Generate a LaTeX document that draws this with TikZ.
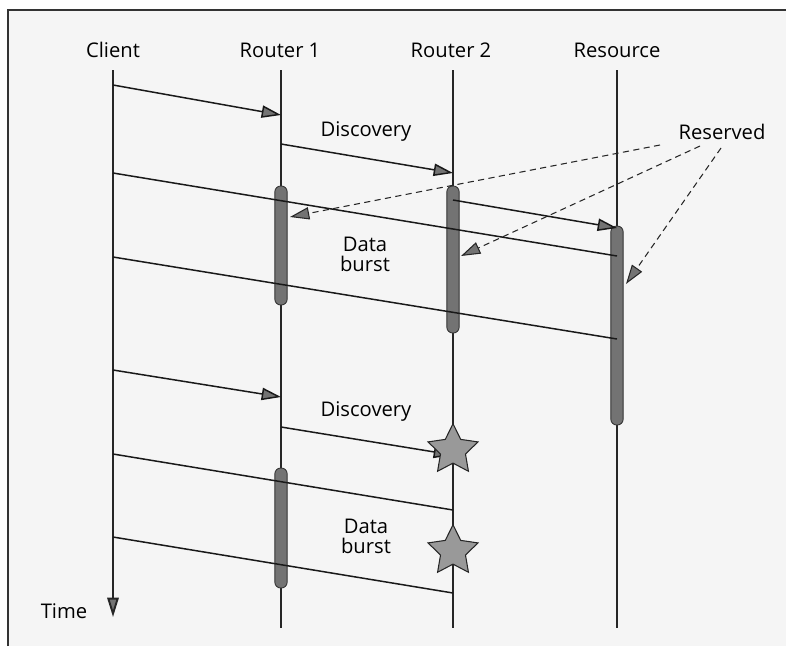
\documentclass[tikz,border=0pt]{standalone}
\usepackage{fontspec}
\setmainfont{Open Sans}
\usetikzlibrary{arrows.meta,shapes.geometric}

\tikzstyle{actor} = [font=\fontsize{11.5}{13}\selectfont, inner sep=0pt]
\tikzstyle{note} = [font=\fontsize{11.5}{11.5}\selectfont, align=center, inner sep=0pt]
\tikzstyle{lifeline} = [draw=black!85, line width=0.6pt]
\tikzstyle{burst} = [rectangle, rounded corners=3.3pt, minimum width=7pt, inner sep=0pt, fill=black!55, draw=black!80, line width=0.5pt]
\tikzstyle{msg} = [draw=black!90, line width=0.85pt]
\tikzstyle{tip} = [-{Triangle[length=11pt,width=7pt,fill=black!55]}]
\tikzstyle{reserve} = [draw=black!85, dashed, dash pattern=on 3.5pt off 2.5pt, line width=0.6pt]
\tikzstyle{fault} = [star, star points=5, star point ratio=2.0, minimum size=1.05cm, inner sep=0pt, fill=black!40, draw=black!85, line width=0.6pt]

\begin{document}
\begin{tikzpicture}[x=0.02cm, y=-0.02cm]
    \useasboundingbox (0,0) rectangle (786,646);
    \fill[gray!8] (8,10) rectangle (786,646);
    \draw[line width=1.1pt, black!80] (8,646) -- (8,10) -- (786,10);
    %\draw[step=50,gray,very thin] (0,0) grid (786,646);

    % headers
    \node (client) at (113,50) [actor] {Client};
    \node (router1) at (280,50) [actor] {Router 1};
    \node (router2) at (451,50) [actor] {Router 2};
    \node (resource) at (617,50) [actor] {Resource};

    % lifelines
    \coordinate (c top) at (113,70);   \coordinate (c end) at (113,617);
    \coordinate (r1 top) at (281,70);  \coordinate (r1 end) at (281,628);
    \coordinate (r2 top) at (453,70);  \coordinate (r2 end) at (453,628);
    \coordinate (rs top) at (617,70);  \coordinate (rs end) at (617,628);
    \draw [lifeline, line width=1.1pt, -{Triangle[length=11pt,width=6.5pt,fill=black!55]}] (c top) -- (c end);
    \draw [lifeline] (r1 top) -- (r1 end);
    \draw [lifeline] (r2 top) -- (r2 end);
    \draw [lifeline, line width=1.1pt] (rs top) -- (rs end);

    % reserved periods
    \node (burst1) at (281,245.5) [burst, minimum height=2.38cm] {};
    \node (burst2) at (453,259.5) [burst, minimum height=2.94cm] {};
    \node (burst3) at (617,325.5) [burst, minimum height=3.98cm] {};
    \node (burst4) at (281,528) [burst, minimum height=2.4cm] {};

    % first round
    \coordinate (m1a) at (113,85);  \coordinate (m1b) at (281,115);
    \coordinate (m2a) at (281,144); \coordinate (m2b) at (453,173);
    \coordinate (m3a) at (453,200); \coordinate (m3b) at (617,228);
    \coordinate (m4a) at (113,173); \coordinate (m4b) at (617,256);
    \coordinate (m5a) at (113,257); \coordinate (m5b) at (617,339);
    \draw [msg, tip] (m1a) -- (m1b);
    \draw [msg, tip] (m2a) -- (m2b);
    \draw [msg, tip] (m3a) -- (m3b);
    \draw [msg] (m4a) -- (m4b);
    \draw [msg] (m5a) -- (m5b);
    \node (disc1) at (366,132) [note] {Discovery};
    \node (data1) at (365,254) [note] {Data\\burst};

    % reserved pointers
    \node (reserved) at (722,132) [note] {Reserved};
    \coordinate (s1) at (660,145); \coordinate (e1) at (290,217);
    \coordinate (s2) at (700,146); \coordinate (e2) at (461,256);
    \coordinate (s3) at (721,148); \coordinate (e3) at (626,284);
    \draw [reserve, tip] (s1) -- (e1);
    \draw [reserve, tip] (s2) -- (e2);
    \draw [reserve, tip] (s3) -- (e3);

    % second round
    \coordinate (m6a) at (113,370); \coordinate (m6b) at (281,397);
    \coordinate (m7a) at (281,427); \coordinate (m7b) at (453,455);
    \coordinate (m8a) at (113,454); \coordinate (m8b) at (453,510);
    \coordinate (m9a) at (113,537); \coordinate (m9b) at (453,593);
    \draw [msg, tip] (m6a) -- (m6b);
    \draw [msg, tip] (m7a) -- (m7b);
    \draw [msg] (m8a) -- (m8b);
    \draw [msg] (m9a) -- (m9b);
    \node (disc2) at (366,412) [note] {Discovery};
    \node (data2) at (366,536) [note] {Data\\burst};
    \node (fail1) at (453,450) [fault] {};
    \node (fail2) at (453,551) [fault] {};

    \node (time) at (64,611) [actor] {Time};
\end{tikzpicture}
\end{document}
